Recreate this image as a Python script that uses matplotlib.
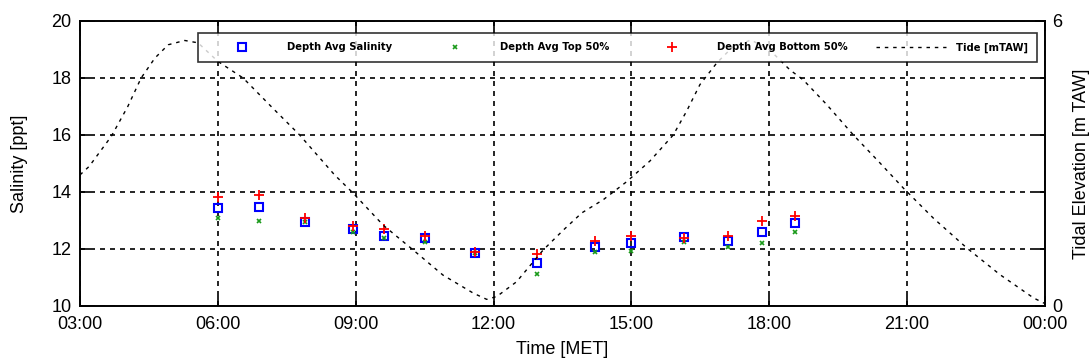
import numpy as np
import matplotlib.pyplot as plt

plt.rcParams['font.family'] = ['Liberation Sans', 'DejaVu Sans']

# salinity samples (hours after midnight)
t_samples = [6.0, 6.9, 7.9, 8.94, 9.62, 10.5, 11.6, 12.94, 14.21, 15.0, 16.15, 17.11, 17.84, 18.55]
sal_avg = [13.43, 13.48, 12.96, 12.71, 12.47, 12.39, 11.87, 11.5, 12.08, 12.2, 12.41, 12.28, 12.58, 12.9]
sal_top = [13.1, 12.98, 12.95, 12.6, 12.4, 12.26, 11.85, 11.11, 11.9, 11.93, 12.26, 12.08, 12.2, 12.6]
sal_bot = [13.81, 13.9, 13.1, 12.8, 12.69, 12.46, 11.88, 11.82, 12.28, 12.46, 12.4, 12.46, 12.98, 13.17]

# tide curve
t_tide = [3.0, 3.2, 3.68, 4.04, 4.33, 4.63, 4.92, 5.28, 5.57, 6.0, 6.55, 7.16, 7.78, 8.54,
          8.95, 9.6, 10.25, 10.9, 11.56, 11.85, 12.07, 12.5, 13.08, 13.52, 13.92, 14.39,
          14.9, 15.4, 15.91, 16.2, 16.49, 16.86, 17.2, 17.6, 18.0, 18.45, 18.74, 19.25,
          19.83, 20.41, 20.92, 21.57, 22.3, 23.02, 23.75, 24.0]
tide = [2.76, 2.94, 3.57, 4.2, 4.8, 5.22, 5.5, 5.59, 5.54, 5.15, 4.8, 4.2, 3.6, 2.76,
        2.37, 1.7, 1.18, 0.65, 0.27, 0.14, 0.2, 0.51, 1.18, 1.6, 1.96, 2.24,
        2.62, 3.05, 3.6, 4.1, 4.66, 5.12, 5.45, 5.6, 5.4, 4.97, 4.76, 4.24,
        3.6, 3.01, 2.48, 1.85, 1.22, 0.66, 0.17, 0.05]

x_ticks = [3, 6, 9, 12, 15, 18, 21, 24]
x_labels = ['03:00', '06:00', '09:00', '12:00', '15:00', '18:00', '21:00', '00:00']
sal_ticks = [10, 12, 14, 16, 18, 20]
tide_ticks = [0, 1.2, 2.4, 3.6, 4.8, 6]
tide_labels = ['0', '', '', '', '', '6']

fig = plt.figure(figsize=(10.89, 3.63), dpi=100)
ax = fig.add_axes([80 / 1089, 57 / 363, 965 / 1089, 285 / 363])
ax2 = ax.twinx()

h1, = ax.plot(t_samples, sal_avg, 's', mfc='none', mec='blue', ms=6, mew=1.5, label='Depth Avg Salinity')
h2, = ax.plot(t_samples, sal_top, 'x', color='#1a9a1a', ms=3.5, mew=1.2, label='Depth Avg Top 50%')
h3, = ax.plot(t_samples, sal_bot, '+', color='red', ms=7, mew=1.3, label='Depth Avg Bottom 50%')
h4, = ax2.plot(t_tide, tide, color='black', lw=1.0, dashes=(2.5, 3.5), label='Tide [mTAW]')

ax.set_xlim(3, 24)
ax.set_ylim(10, 20)
ax2.set_ylim(0, 6)
ax.set_xticks(x_ticks)
ax.set_xticklabels(x_labels)
ax.set_yticks(sal_ticks)
ax2.set_yticks(tide_ticks)
ax2.set_yticklabels(tide_labels)

ax.grid(True, color='black', linestyle=(0, (3, 3)), lw=1.2)
ax.tick_params(direction='in', length=7, width=1.2, top=True, labelsize=13)
ax.tick_params(axis='x', pad=7)
ax.tick_params(axis='y', pad=6)
ax2.tick_params(direction='in', length=7, width=1.2, labelsize=13, pad=5)
for sp in ax.spines.values():
    sp.set_linewidth(1.2)
for sp in ax2.spines.values():
    sp.set_linewidth(1.2)

ax.set_xlabel('Time [MET]', fontsize=13, labelpad=6)
ax.set_ylabel('Salinity [ppt]', fontsize=13, labelpad=17)
ax2.set_ylabel('Tidal Elevation [m TAW]', fontsize=13, labelpad=8)

leg = ax2.legend([h1, h2, h3, h4], [h.get_label() for h in (h1, h2, h3, h4)],
                 loc='lower left', bbox_to_anchor=(0.122, 0.856, 0.87, 0.098),
                 mode='expand', ncol=4, frameon=True, fancybox=False,
                 prop={'family': 'DejaVu Sans', 'weight': 'bold', 'size': 7.2},
                 handlelength=7.0, handletextpad=1.0, borderaxespad=0, borderpad=0.95,
                 columnspacing=1.5)
leg.get_frame().set_edgecolor('black')
leg.get_frame().set_linewidth(1.2)

fig.savefig('out.png', dpi=100)
